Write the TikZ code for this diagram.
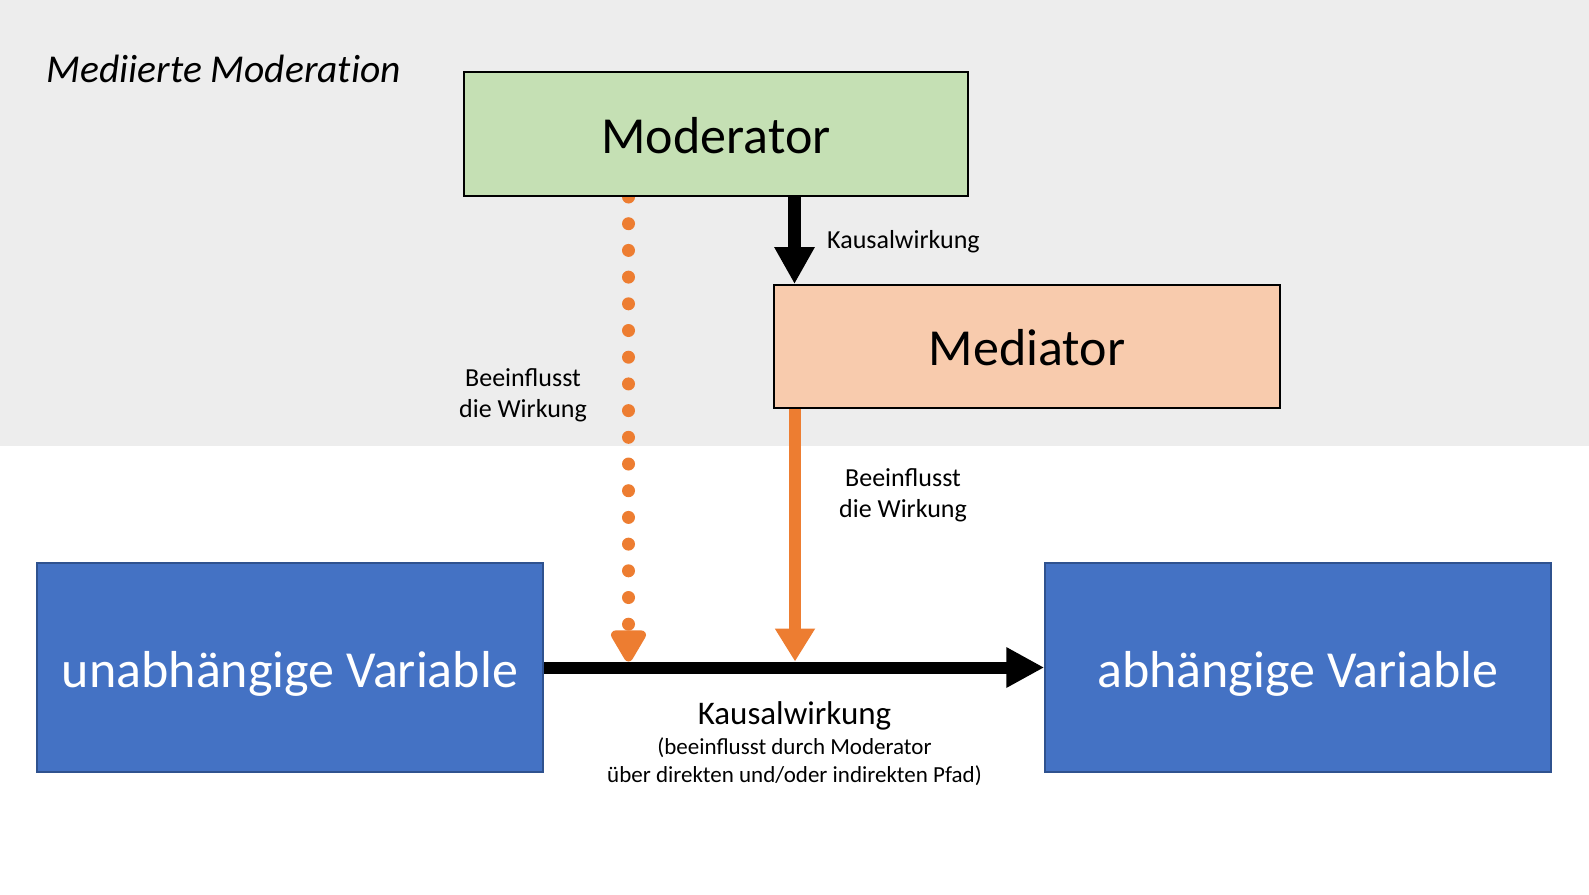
\documentclass[tikz,border=0pt]{standalone}
\usepackage{fontspec}
\setmainfont{Carlito}
\usetikzlibrary{arrows.meta,calc}
\definecolor{bggray}{HTML}{EDEDED}
\definecolor{modgreen}{HTML}{C5E0B4}
\definecolor{medorange}{HTML}{F8CBAD}
\definecolor{varblue}{HTML}{4472C4}
\definecolor{varborder}{HTML}{2F528F}
\definecolor{arrorange}{HTML}{ED7D31}
\pgfdeclarelayer{bg}
\pgfsetlayers{bg,main}
\tikzset{
  topbox/.style={draw=black, line width=2pt, inner sep=0pt, text height=38pt, text depth=0pt,
     font=\fontsize{52}{60}\selectfont},
  varbox/.style={draw=varborder, line width=1.5pt, fill=varblue, text=white, inner sep=0pt,
     text height=39pt, text depth=0pt,
     minimum width=506pt, minimum height=209pt, font=\fontsize{52}{60}\selectfont},
  smalllabel/.style={font=\fontsize{26}{31.4}\selectfont, align=center, inner sep=0pt},
  blackarrow/.style={line width=13pt, black, -{Triangle[length=37pt,width=38pt]}},
  mainarrow/.style={line width=12pt, black, -{Triangle[length=38pt,width=38pt]}},
  orangearrow/.style={line width=12.5pt, arrorange, -{Triangle[length=33pt,width=38pt]}},
  dotarrow/.style={line width=13pt, arrorange, dash pattern=on 0pt off 26.7pt,
     -{Triangle[length=36pt,width=39pt,round=false]}},
}
\begin{document}
\begin{tikzpicture}[x=1pt,y=-1pt]
\useasboundingbox (0,0) rectangle (1589,894);
\begin{pgfonlayer}{bg}
\fill[white] (0,0) rectangle (1589,894);
\fill[bggray] (0,0) rectangle (1589,446);
\end{pgfonlayer}

\node[anchor=west, inner sep=0pt, font=\fontsize{39.5}{46}\selectfont\itshape\addfontfeatures{Ligatures=NoCommon}] (title) at (46.5,69) {Mediierte Moderation};

\node[topbox, fill=modgreen, minimum width=504pt, minimum height=124pt] (mod) at (716,134) {Moderator};
\node[topbox, fill=medorange, minimum width=506pt, minimum height=123pt] (med) at (1027,346.5) {Mediator};
\node[varbox] (uv) at (290,667.5) {unabhängige Variable};
\node[varbox] (av) at (1298,667.5) {abhängige Variable};

\coordinate (kx) at (794.5,0);
\coordinate (dx) at (628.5,0);

\begin{pgfonlayer}{bg}
  \draw[dotarrow, line cap=round, shorten >=6pt] (mod.south -| dx) -- (dx |- uv.east);
\end{pgfonlayer}

\draw[blackarrow] (mod.south -| kx) -- (med.north -| kx);
\draw[orangearrow, shorten >=6pt] ([xshift=0.5pt]med.south -| kx) -- ([xshift=0.5pt]kx |- uv.east);
\draw[mainarrow] (uv.east) -- (av.west);

\node[smalllabel, anchor=west] (k1) at (827,242) {Kausalwirkung};
\node[smalllabel] (b1) at (523,395) {Beeinflusst\\die Wirkung};
\node[smalllabel] (b2) at (903,495) {Beeinflusst\\die Wirkung};
\node[inner sep=0pt, font=\fontsize{33}{38}\selectfont] (k2) at (794.5,716) {Kausalwirkung};
\node[inner sep=0pt, align=center, font=\fontsize{23}{28}\selectfont] (k3) at (794.5,762) {(beeinflusst durch Moderator\\über direkten und/oder indirekten Pfad)};
\end{tikzpicture}
\end{document}
